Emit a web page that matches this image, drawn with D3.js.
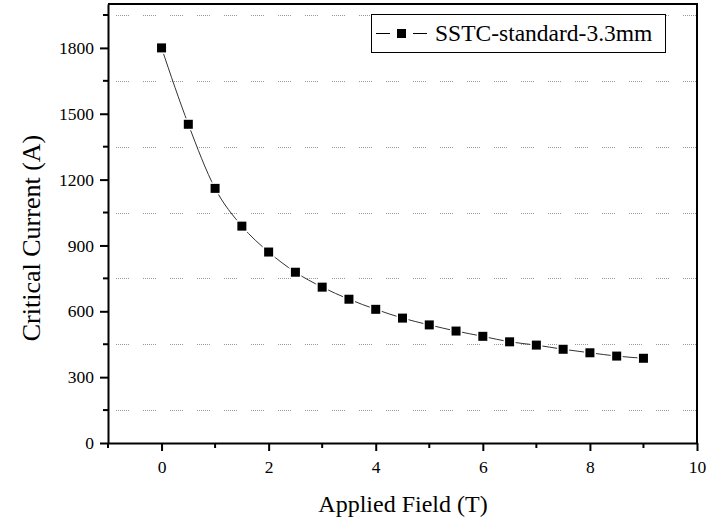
<!DOCTYPE html>
<html>
<head>
<meta charset="utf-8">
<script src="https://cdn.jsdelivr.net/npm/d3@7"></script>
<style>
  body { margin: 0; background: #fff; }
  text { font-family: "Liberation Serif", "Times New Roman", serif; fill: #000; }
</style>
</head>
<body>
<script>
// data
const fieldT = [0, 0.5, 1, 1.5, 2, 2.5, 3, 3.5, 4, 4.5, 5, 5.5, 6, 6.5, 7, 7.5, 8, 8.5, 9];
const currentA = [1800, 1452, 1160, 988, 870, 778, 710, 655, 609, 569, 538, 510, 486, 461, 446, 427, 411, 396, 386];
const xTicks = [0, 2, 4, 6, 8, 10];
const yTicks = [0, 300, 600, 900, 1200, 1500, 1800];
const seriesName = "SSTC-standard-3.3mm";

const width = 714, height = 519;
const margin = { left: 108, right: 17, top: 4, bottom: 76 };

const svg = d3.select("body")
    .append("svg")
    .attr("width", width)
    .attr("height", height);

const x = d3.scaleLinear().domain([-1, 10]).range([margin.left, width - margin.right]);
const y = d3.scaleLinear().domain([0, 2000]).range([height - margin.bottom, margin.top]);

const x0 = x.range()[0], x1 = x.range()[1];
const y0 = y.range()[0], y1 = y.range()[1];

// dotted grid at the minor y ticks
const gridVals = d3.range(150, 2000, 300);
svg.append("g")
    .selectAll("line")
    .data(gridVals)
    .enter()
    .append("line")
    .attr("x1", x0 + 8)
    .attr("x2", x1)
    .attr("y1", d => Math.round(y(d)) + 0.5)
    .attr("y2", d => Math.round(y(d)) + 0.5)
    .attr("stroke", "#9a9a9a")
    .attr("stroke-width", 1)
    .attr("stroke-dasharray", "1,1,1,1,1,1,1,1,1,1,1,1,1,14");

// bottom axis
const xAxis = svg.append("g")
    .attr("transform", `translate(0,${y0})`)
    .call(d3.axisBottom(x).tickValues(xTicks).tickFormat(d3.format("d"))
        .tickSize(8).tickSizeOuter(0).tickPadding(10));
xAxis.append("g")
    .selectAll("line")
    .data([-1, 1, 3, 5, 7, 9])
    .enter()
    .append("line")
    .attr("x1", d => x(d)).attr("x2", d => x(d))
    .attr("y1", 0).attr("y2", 5)
    .attr("stroke", "#000").attr("stroke-width", 2);

// left axis
const yAxis = svg.append("g")
    .attr("transform", `translate(${x0},0)`)
    .call(d3.axisLeft(y).tickValues(yTicks).tickFormat(d3.format("d"))
        .tickSize(8).tickSizeOuter(0).tickPadding(6));
yAxis.append("g")
    .selectAll("line")
    .data(gridVals)
    .enter()
    .append("line")
    .attr("x1", -5).attr("x2", 0)
    .attr("y1", d => y(d)).attr("y2", d => y(d))
    .attr("stroke", "#000").attr("stroke-width", 2);

svg.selectAll(".domain").attr("stroke", "#000").attr("stroke-width", 2);
svg.selectAll(".tick line").attr("stroke", "#000").attr("stroke-width", 2);
svg.selectAll(".tick text")
    .style("font-size", "17.5px")
    .attr("fill", "#000");

// top and right frame
svg.append("path")
    .attr("d", `M${x0},${y1}H${x1}V${y0}`)
    .attr("fill", "none")
    .attr("stroke", "#000")
    .attr("stroke-width", 2);

// axis titles
svg.append("text")
    .attr("x", 403)
    .attr("y", 512)
    .attr("text-anchor", "middle")
    .attr("font-size", 24)
    .text("Applied Field (T)");

svg.append("text")
    .attr("transform", `translate(40,238) rotate(-90)`)
    .attr("text-anchor", "middle")
    .attr("font-size", 26)
    .text("Critical Current (A)");

// the series
const pts = fieldT.map((f, i) => ({ f: f, c: currentA[i] }));

const line = d3.line()
    .x(d => x(d.f))
    .y(d => y(d.c))
    .curve(d3.curveMonotoneX);

svg.append("path")
    .datum(pts)
    .attr("d", line)
    .attr("fill", "none")
    .attr("stroke", "#333")
    .attr("stroke-width", 1);

const ms = 9;
svg.append("g")
    .selectAll("rect")
    .data(pts)
    .enter()
    .append("rect")
    .attr("x", d => x(d.f) - ms / 2)
    .attr("y", d => y(d.c) - ms / 2)
    .attr("width", ms)
    .attr("height", ms)
    .attr("fill", "#000")
    .attr("stroke", "#fff")
    .attr("stroke-width", 3)
    .attr("paint-order", "stroke");

// legend
const lg = svg.append("g").attr("transform", "translate(371,14)");
lg.append("rect")
    .attr("x", 0.5).attr("y", 0.5)
    .attr("width", 294).attr("height", 38)
    .attr("fill", "#fff")
    .attr("stroke", "#000")
    .attr("stroke-width", 1);
lg.append("line").attr("x1", 5).attr("x2", 19).attr("y1", 19.5).attr("y2", 19.5).attr("stroke", "#000");
lg.append("line").attr("x1", 42).attr("x2", 56).attr("y1", 19.5).attr("y2", 19.5).attr("stroke", "#000");
lg.append("rect").attr("x", 26).attr("y", 15).attr("width", 9).attr("height", 9).attr("fill", "#000");
lg.append("text")
    .attr("x", 64)
    .attr("y", 27)
    .attr("font-size", 23.5)
    .text(seriesName);
</script>
</body>
</html>
